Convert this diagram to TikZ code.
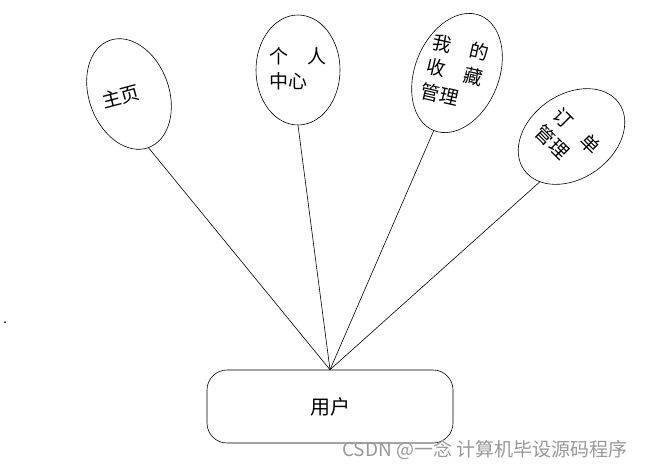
\documentclass[tikz,border=0pt]{standalone}
\usepackage{fontspec}
\newfontfamily\cjk{Noto Sans CJK SC}
\usetikzlibrary{shapes.geometric}
\begin{document}
\begin{tikzpicture}[x=1pt,y=-1pt,
  bub/.style={draw, ellipse, line width=0.6pt, inner sep=0pt},
  lab/.style={font=\cjk\fontsize{19}{25}\selectfont, align=left, inner sep=0pt},
  link/.style={line width=0.6pt}]
\useasboundingbox (0,0) rectangle (655,467);
\node[bub, minimum width=80pt, minimum height=114pt, rotate=20] (e1) at (129,94) {};
\node[lab, rotate=15] (t1) at (121,97) {主页};
\node[bub, minimum width=84pt, minimum height=110pt] (e2) at (298,70) {};
\node[lab] (t2) at (298,68.5) {个\hspace{1em}人\\中心};
\node[bub, minimum width=84pt, minimum height=124pt, rotate=-22] (e3) at (457,73) {};
\node[lab, rotate=-13] (t3) at (455,72) {我\hspace{1em}的\\收\hspace{1em}藏\\管理};
\node[bub, minimum width=116pt, minimum height=84pt, rotate=35] (e4) at (571.5,136.5) {};
\node[lab, rotate=-45] (t4) at (568,140) {订\hspace{1em}单\\管理};
\node[draw, rounded corners=20pt, minimum width=246pt, minimum height=73pt, line width=0.6pt, font=\cjk\fontsize{20}{24}\selectfont] (user) at (330,406.5) {用户};
\draw[link] (e1.south) -- (user.north);
\draw[link] (e2.south) -- (user.north);
\draw[link] (e3.south) -- (user.north);
\draw[link] (e4.200) -- (user.north);
\node[anchor=west, font=\cjk\fontsize{19}{20}\selectfont, text=black!40, inner sep=0pt] (wm) at (342,450) {CSDN @一念 计算机毕设源码程序};
\node[circle, fill, inner sep=0.7pt] (dot) at (5,322) {};
\end{tikzpicture}
\end{document}
